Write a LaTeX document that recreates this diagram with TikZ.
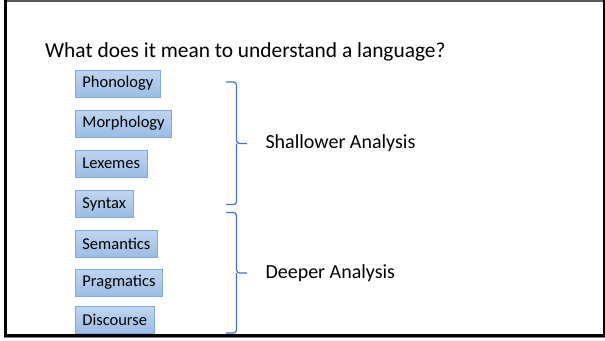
\documentclass[tikz,border=0pt]{standalone}
\usepackage{fontspec}
\setmainfont{Carlito}
\definecolor{boxtop}{HTML}{BED5F0}
\definecolor{boxbot}{HTML}{9CBCE4}
\definecolor{boxline}{HTML}{7FA8DB}
\definecolor{bracecol}{HTML}{4472C4}
\tikzset{
  topic/.style={draw=boxline, line width=0.8pt, top color=boxtop, bottom color=boxbot,
    anchor=west, minimum height=27pt, inner xsep=7pt, inner ysep=0pt,
    font=\fontsize{16.5}{18}\selectfont, text=black},
  bracepath/.style={draw=bracecol, line width=1.2pt, rounded corners=3pt},
  label/.style={anchor=west, font=\fontsize{20}{22}\selectfont, text=black},
}
\begin{document}
\begin{tikzpicture}[x=1pt,y=-1pt]
\useasboundingbox (0,0) rectangle (605,340);
\fill[white] (0,0) rectangle (605,340);
% frame
\draw[gray!70!black, line width=1.5pt] (4,0.8) -- (605,0.8);
\draw[black, line width=2.8pt] (5.4,0) -- (5.4,335.6);
\draw[black, line width=1.5pt] (604.2,0) -- (604.2,335.6);
\draw[black, line width=2.8pt] (4,335.6) -- (605,335.6);
\draw[gray, line width=1pt] (4,337.8) -- (605,337.8);
% title
\node[anchor=base west, inner sep=0pt, font=\fontsize{21.4}{25}\selectfont] (title) at (45,57.3) {What does it mean to understand a language?};
% boxes
\node[topic] (pho) at (75,83.5) {Phonology};
\node[topic] (mor) at (75,123.5) {Morphology};
\node[topic] (lex) at (75,163.5) {Lexemes};
\node[topic] (syn) at (75,204) {Syntax};
\node[topic] (sem) at (75,244) {Semantics};
\node[topic] (pra) at (75,282.5) {Pragmatics};
\node[topic] (dis) at (75,320) {Discourse};
% braces
\coordinate (s1) at (226,82);
\coordinate (s2) at (226,204.5);
\coordinate (stip) at (247,143.5);
\coordinate (d1) at (226,212.5);
\coordinate (d2) at (226,333);
\coordinate (dtip) at (247,273);
\draw[bracepath] (s1) -- (236.5,82) -- (236.5,143.5) -- (stip);
\draw[bracepath] (s2) -- (236.5,204.5) -- (236.5,143.5);
\draw[bracepath] (d1) -- (236.5,212.5) -- (236.5,273) -- (dtip);
\draw[bracepath] (d2) -- (236.5,333) -- (236.5,273);
% labels
\node[label] (shallow) at (262,143) {Shallower Analysis};
\node[label] (deep) at (262,273) {Deeper Analysis};
\end{tikzpicture}
\end{document}
